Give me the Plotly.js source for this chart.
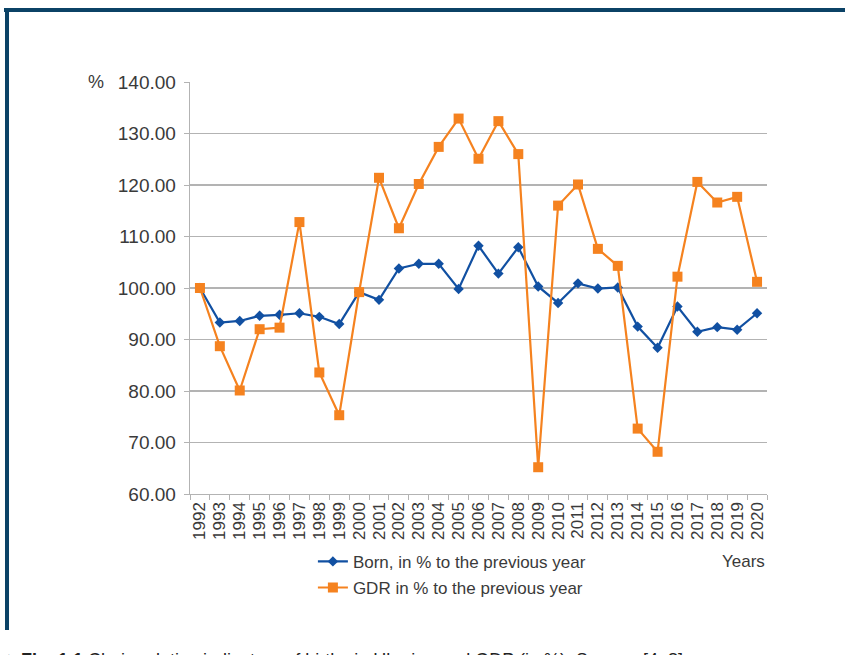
<!DOCTYPE html>
<html>
<head>
<meta charset="utf-8">
<script src="https://cdn.plot.ly/plotly-3.0.1.min.js"></script>
<style>
html,body{margin:0;padding:0;background:#fff;}
#chart{width:845px;height:655px;}
</style>
</head>
<body>
<div id="chart"></div>
<script>
const years = ["1992","1993","1994","1995","1996","1997","1998","1999","2000","2001","2002","2003","2004","2005","2006","2007","2008","2009","2010","2011","2012","2013","2014","2015","2016","2017","2018","2019","2020"];
const born = [100.0,93.3,93.6,94.6,94.8,95.1,94.4,93.0,99.2,97.7,103.8,104.7,104.7,99.8,108.2,102.8,107.9,100.3,97.1,100.9,99.9,100.1,92.5,88.4,96.4,91.5,92.4,91.9,95.1];
const gdr = [100.0,88.7,80.1,92.0,92.3,112.8,83.6,75.3,99.2,121.4,111.6,120.2,127.4,132.9,125.1,132.4,126.0,65.2,116.0,120.1,107.6,104.3,72.7,68.2,102.2,120.6,116.6,117.7,101.2];
const bornName = "Born, in % to the previous year";
const gdrName = "GDR in % to the previous year";
const yTicks = [60,70,80,90,100,110,120,130,140];

const FONT = "Liberation Sans, Arial, sans-serif";
const TXT = "#3a3a3a";
const NAVY = "#0b4266";

const traces = [
  {x: years, y: born, name: bornName, type: "scatter", mode: "lines+markers",
   legendgroup: "a",
   line: {color: "#1150a2", width: 2.2},
   marker: {symbol: "diamond", size: 8, color: "#1150a2"}},
  {x: years, y: gdr, name: gdrName, type: "scatter", mode: "lines+markers",
   legendgroup: "b",
   line: {color: "#f5821f", width: 2.2},
   marker: {symbol: "square", size: 10, color: "#f5821f"}}
];

const layout = {
  width: 845, height: 655,
  margin: {l: 190, r: 78, t: 82, b: 161},
  paper_bgcolor: "#ffffff", plot_bgcolor: "#ffffff",
  font: {family: FONT, color: TXT, size: 17},
  showlegend: true,
  legend: {x: 0.213, xanchor: "left", y: -0.121, yanchor: "top",
           font: {family: FONT, size: 17, color: TXT},
           tracegroupgap: 1, bgcolor: "rgba(0,0,0,0)"},
  xaxis: {type: "category", range: [-0.5, 28.5], tickangle: -90,
          tickmode: "linear", tick0: 0, dtick: 1,
          ticks: "outside", tickson: "boundaries", ticklen: 5, tickcolor: "#b3b3b3",
          showline: true, linecolor: "#b3b3b3", linewidth: 1.3,
          showgrid: false, zeroline: false,
          tickfont: {family: FONT, size: 17, color: TXT}},
  yaxis: {range: [60, 140], tickvals: yTicks, tickformat: ".2f",
          ticks: "outside", ticklen: 5, tickcolor: "#b3b3b3",
          showline: true, linecolor: "#b3b3b3", linewidth: 1.3,
          gridcolor: "#b3b3b3", gridwidth: 1.3, zeroline: false,
          ticklabelstandoff: 4,
          tickfont: {family: FONT, size: 19, color: TXT}},
  annotations: [
    {text: "%", xref: "paper", yref: "paper", x: -0.163, y: 1, xanchor: "center", yanchor: "middle",
     showarrow: false, font: {family: FONT, size: 18, color: TXT}},
    {text: "Years", xref: "paper", yref: "paper", x: 1.0, y: -0.163, xanchor: "right", yanchor: "middle",
     showarrow: false, font: {family: FONT, size: 17, color: TXT}},
    {text: "<span style='color:" + NAVY + "'>◆</span> <b>Fig. 1.1</b> Chain relative indicators of births in Ukraine and GDP (in %). Source: [4, 8]",
     xref: "paper", yref: "paper", x: -0.329, y: (494 - 648) / 412, xanchor: "left", yanchor: "top",
     showarrow: false, align: "left", font: {family: FONT, size: 18, color: "#222222"}}
  ],
  shapes: [
    {type: "line", xref: "paper", yref: "paper", x0: (4 - 190) / 577, x1: (845 - 190) / 577,
     y0: (494 - 10) / 412, y1: (494 - 10) / 412, line: {color: NAVY, width: 4}},
    {type: "line", xref: "paper", yref: "paper", x0: (7 - 190) / 577, x1: (7 - 190) / 577,
     y0: (494 - 8) / 412, y1: (494 - 630) / 412, line: {color: NAVY, width: 4}}
  ]
};

Plotly.newPlot("chart", traces, layout, {displayModeBar: false, staticPlot: true});
</script>
</body>
</html>
